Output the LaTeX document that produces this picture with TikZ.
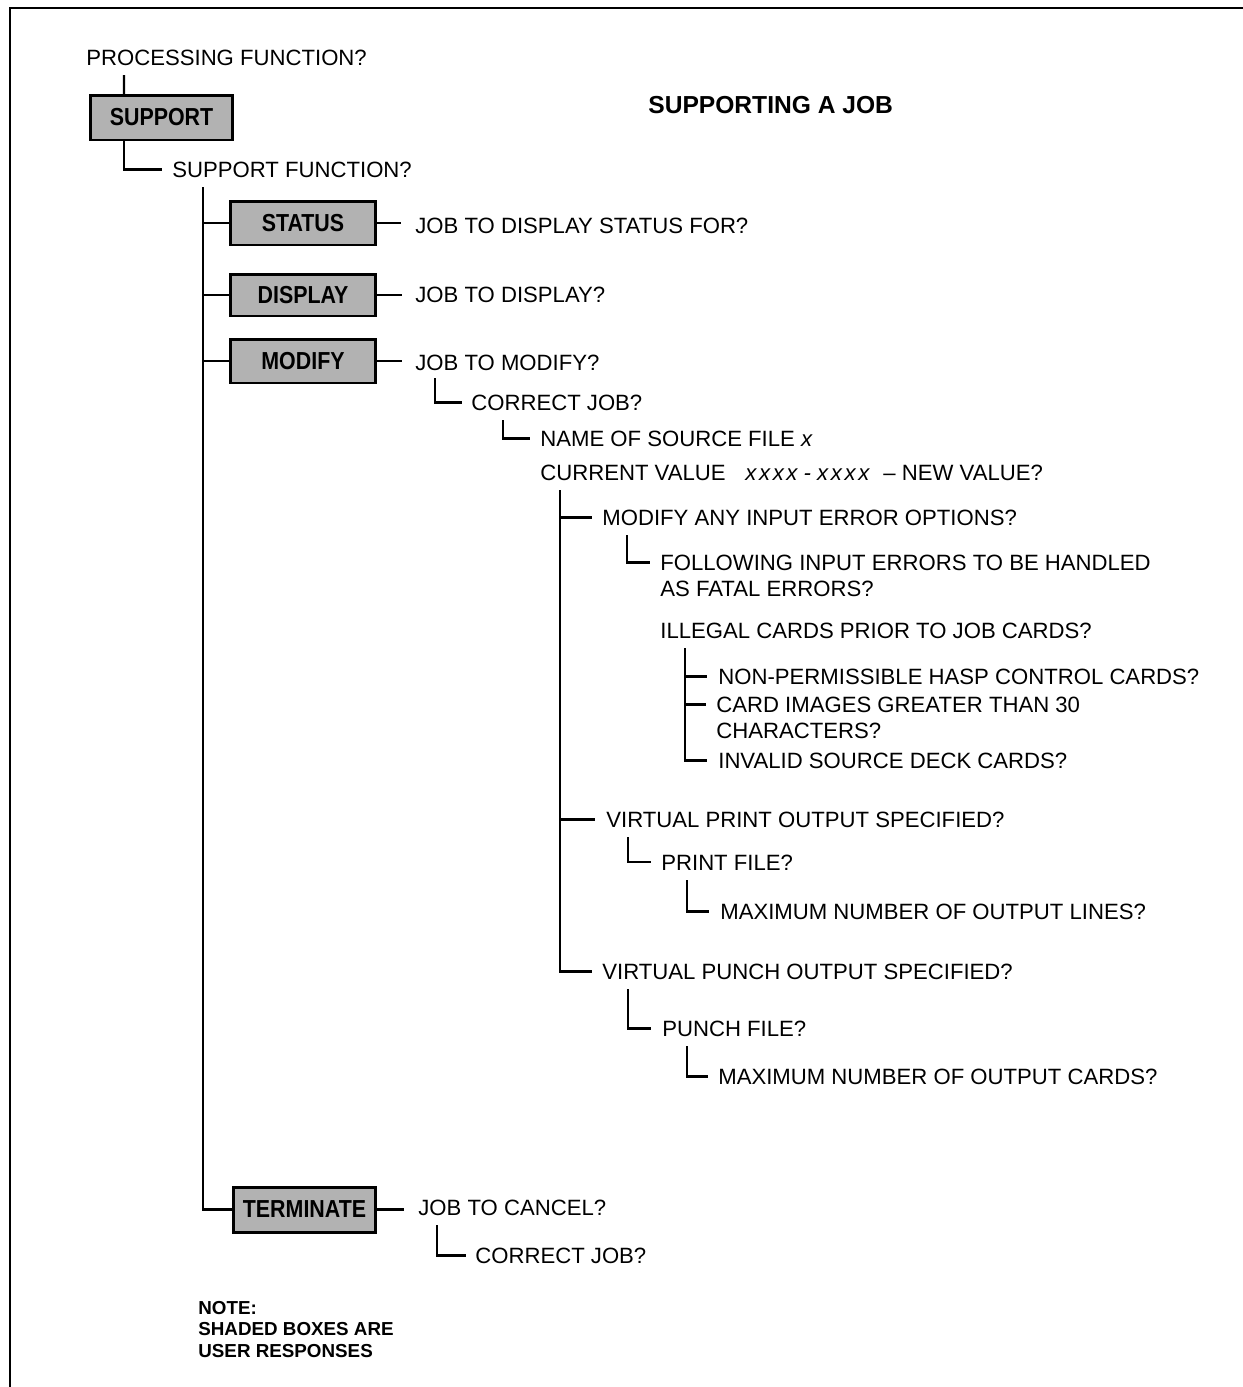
\documentclass[tikz,border=0pt]{standalone}
\usepackage{fontspec}
\setmainfont{Liberation Sans}
\newfontfamily\respfamily[FakeStretch=0.87]{Liberation Sans}
\usetikzlibrary{calc}

\newcommand\qsize{\fontsize{12.6}{15}\selectfont}
\newcommand\respsize{\respfamily\bfseries\fontsize{14}{16}\selectfont}
\newcommand\xgroup{x\kern1.5pt x\kern1.5pt x\kern1.5pt x}

\tikzset{
  q/.style={anchor=base west, inner sep=0pt, font=\qsize},
  resp/.style={draw, line width=1.7pt, fill=black!30, font=\respsize,
    inner sep=0pt, outer sep=0pt, minimum width=2.92cm, minimum height=0.88cm},
  link/.style={line width=1.3pt},
  frame/.style={line width=1.6pt},
  legend/.style={anchor=base west, inner sep=0pt,
    font=\bfseries\fontsize{10.7}{12.5}\selectfont},
}

\begin{document}
\begin{tikzpicture}[x=0.02cm, y=-0.02cm]
\useasboundingbox (0,0) rectangle (1243,1387);

% page frame (top and left rules)
\draw[frame] (10,1387) -- (10,8) -- (1243,8);

% heading
\node[anchor=base west, inner sep=0pt, font=\bfseries\fontsize{14}{16}\selectfont]
  (title) at (648,113) {SUPPORTING A JOB};

% top of the dialogue
\node[q] (pf) at (86,65) {PROCESSING FUNCTION?};
\node[resp, minimum width=2.86cm, minimum height=0.9cm] (support) at (161.5,117.5) {SUPPORT};
\node[q] (sf) at (172,177) {SUPPORT FUNCTION?};

\draw[link] ($(support.north west)+(34,0)$) -- ($(pf.base west)+(38,10)$);
\draw[link] ($(support.south west)+(34,0)$) |- ($(sf.west)+(-10,0)$);

% support functions
\node[resp] (status) at (303,223) {STATUS};
\node[resp, minimum height=0.84cm] (display) at (303,295) {DISPLAY};
\node[resp] (modify) at (303,361) {MODIFY};
\node[resp, minimum width=2.86cm, minimum height=0.9cm] (terminate) at (304.5,1209.5) {TERMINATE};

\coordinate (trunk) at ($(sf.base west)+(31,10)$);
\draw[link] (trunk) |- (terminate.west);
\draw[link] (trunk |- status.west) -- (status.west);
\draw[link] (trunk |- display.west) -- (display.west);
\draw[link] (trunk |- modify.west) -- (modify.west);

% STATUS / DISPLAY
\node[q] (js) at (415,233) {JOB TO DISPLAY STATUS FOR?};
\node[q] (jd) at (415,302) {JOB TO DISPLAY?};
\draw[link] (status.east) -- ($(status.east -| js.west)+(-14,0)$);
\draw[link] (display.east) -- ($(display.east -| jd.west)+(-13,0)$);

% MODIFY
\node[q] (jm) at (415,370) {JOB TO MODIFY?};
\node[q] (cj) at (471,410) {CORRECT JOB?};
\node[q] (ns) at (540,446) {NAME OF SOURCE FILE \textit{x}};
\node[q] (cv) at (540,480) {CURRENT VALUE};
\node[q] (xx) at (745,480) {\textit{\xgroup{} - \xgroup}};
\node[q] (nv) at (883,480) {-- NEW VALUE?};
\draw[link] (modify.east) -- ($(modify.east -| jm.west)+(-13,0)$);
\draw[link] ($(jm.base west)+(20,8)$) |- ($(cj.west)+(-9,0)$);
\draw[link] ($(cj.base west)+(32,10)$) |- ($(ns.west)+(-10,0)$);

\node[q] (mi) at (602,525) {MODIFY ANY INPUT ERROR OPTIONS?};
\node[q] (fo) at (660,570) {FOLLOWING INPUT ERRORS TO BE HANDLED};
\node[q] (fo2) at (660,596) {AS FATAL ERRORS?};
\node[q] (il) at (660,638) {ILLEGAL CARDS PRIOR TO JOB CARDS?};
\node[q] (np) at (718,684) {NON-PERMISSIBLE HASP CONTROL CARDS?};
\node[q] (ci) at (716,712) {CARD IMAGES GREATER THAN 30};
\node[q] (ci2) at (716,738) {CHARACTERS?};
\node[q] (iv) at (718,768) {INVALID SOURCE DECK CARDS?};
\node[q] (vpr) at (606,827) {VIRTUAL PRINT OUTPUT SPECIFIED?};
\node[q] (prf) at (661,870) {PRINT FILE?};
\node[q] (ml) at (720,919) {MAXIMUM NUMBER OF OUTPUT LINES?};
\node[q] (vpu) at (602,979) {VIRTUAL PUNCH OUTPUT SPECIFIED?};
\node[q] (puf) at (662,1036) {PUNCH FILE?};
\node[q] (mc) at (718,1084) {MAXIMUM NUMBER OF OUTPUT CARDS?};

\coordinate (sub) at ($(cv.base west)+(20,10)$);
\draw[link] (sub) |- ($(vpu.west)+(-10,0)$);
\draw[link] (sub |- mi.west) -- ($(mi.west)+(-10,0)$);
\draw[link] (sub |- vpr.west) -- ($(vpr.west)+(-11,0)$);

\draw[link] ($(mi.base west)+(25,10)$) |- ($(fo.west)+(-10,0)$);

\coordinate (ill) at ($(il.base west)+(25,10)$);
\draw[link] (ill) |- ($(iv.west)+(-11,0)$);
\draw[link] (ill |- np.west) -- ($(np.west)+(-11,0)$);
\draw[link] (ill |- ci.west) -- ($(ci.west)+(-10,0)$);

\draw[link] ($(vpr.base west)+(22,10)$) |- ($(prf.west)+(-10,0)$);
\draw[link] ($(prf.base west)+(26,10)$) |- ($(ml.west)+(-11,0)$);
\draw[link] ($(vpu.base west)+(26,10)$) |- ($(puf.west)+(-11,0)$);
\draw[link] ($(puf.base west)+(25,10)$) |- ($(mc.west)+(-10,0)$);

% TERMINATE
\node[q] (jc) at (418,1215) {JOB TO CANCEL?};
\node[q] (cj2) at (475,1263) {CORRECT JOB?};
\draw[link] (terminate.east) -- ($(terminate.east -| jc.west)+(-14,0)$);
\draw[link] ($(jc.base west)+(19,10)$) |- ($(cj2.west)+(-9,0)$);

% legend
\node[legend] (note) at (198,1314) {NOTE:};
\node[legend] (note2) at (198,1335) {SHADED BOXES ARE};
\node[legend] (note3) at (198,1357) {USER RESPONSES};
\end{tikzpicture}
\end{document}
